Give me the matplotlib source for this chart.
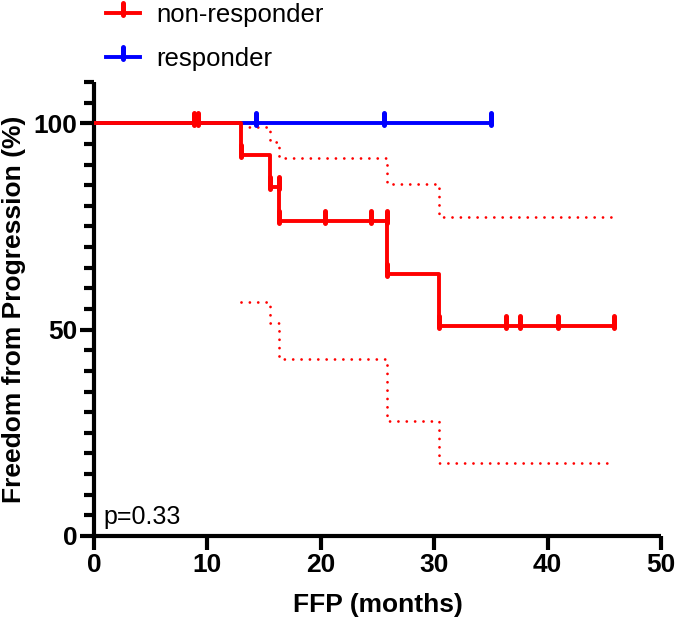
import matplotlib
matplotlib.use("Agg")
import matplotlib.pyplot as plt
from matplotlib.lines import Line2D
from matplotlib.markers import MarkerStyle
from matplotlib.path import Path
from matplotlib.ticker import MultipleLocator

plt.rcParams["font.family"] = ["Liberation Sans", "DejaVu Sans"]

# non-responder Kaplan-Meier curve (step times, survival %)
nr_times = [0, 13.0, 15.5, 16.3, 25.8, 30.4]
nr_surv = [100, 92.3, 84.6, 76.2, 63.5, 50.8]
nr_end = 45.9
nr_cens_t = [8.8, 9.2, 13.0, 15.5, 16.3, 16.3, 20.4, 24.4, 25.8, 25.8, 30.4, 36.3, 37.6, 40.9, 45.9]
nr_cens_s = [100, 100, 92.3, 84.6, 84.6, 76.2, 76.2, 76.2, 76.2, 63.5, 50.8, 50.8, 50.8, 50.8, 50.8]

# 95% confidence band for non-responders
ci_times = [13.0, 15.5, 16.3, 25.8, 30.4]
ci_upper = [99.0, 95.5, 91.7, 85.2, 77.2]
ci_lower = [56.8, 51.5, 42.9, 27.9, 17.7]

# responder curve
r_times = [0]
r_surv = [100]
r_end = 35.0
r_cens_t = [14.3, 25.6, 35.0]
r_cens_s = [100, 100, 100]

RED, BLUE = "#ff0000", "#0000ff"
tick_mark = MarkerStyle(Path([(0, -0.2), (0, 1)]), capstyle="round")
mk = dict(marker=tick_mark, markersize=14.4, markeredgewidth=3.6)


def steps(t, s, end):
    return list(t) + [end], list(s) + [s[-1]]


fig = plt.figure(figsize=(6.82, 6.21), dpi=100)
ax = fig.add_axes([0.1378, 0.1369, 0.8314, 0.7311])

x, y = steps(r_times, r_surv, r_end)
ax.step(x, y, where="post", color=BLUE, lw=2.8, solid_capstyle="butt", zorder=3)
ax.plot(r_cens_t, r_cens_s, color=BLUE, linestyle="none", zorder=3, **mk)

for band in (ci_upper, ci_lower):
    x, y = steps(ci_times, band, nr_end)
    ax.step(x, y, where="post", color=RED, lw=2.0, linestyle=(0, (0.01, 3)),
            dash_capstyle="round", zorder=2)

x, y = steps(nr_times, nr_surv, nr_end)
ax.step(x, y, where="post", color=RED, lw=2.8, solid_capstyle="butt", zorder=4)
ax.plot(nr_cens_t, nr_cens_s, color=RED, linestyle="none", zorder=4, **mk)

ax.set_xlim(0, 50)
ax.set_ylim(0, 110)
ax.spines["top"].set_visible(False)
ax.spines["right"].set_visible(False)
for sp in ("left", "bottom"):
    ax.spines[sp].set_linewidth(3)
    ax.spines[sp].set_capstyle("butt")
ax.xaxis.set_major_locator(MultipleLocator(10))
ax.yaxis.set_major_locator(MultipleLocator(50))
ax.yaxis.set_minor_locator(MultipleLocator(5))
ax.tick_params(axis="both", which="major", length=10, width=3, labelsize=19, pad=2)
ax.tick_params(axis="y", which="minor", length=7, width=3)
for lab in ax.get_xticklabels() + ax.get_yticklabels():
    lab.set_fontweight("bold")

ax.set_xlabel("FFP (months)", fontsize=19, fontweight="bold", labelpad=12)
ax.set_ylabel("Freedom from Progression (%)", fontsize=19, fontweight="bold", labelpad=5)
ax.text(0.8, 4.5, "p=0.33", fontsize=18, va="center", ha="left")

handles = [Line2D([], [], color=RED, lw=2.8, **mk),
           Line2D([], [], color=BLUE, lw=2.8, **mk)]
fig.legend(handles, ["non-responder", "responder"], loc="upper left",
           bbox_to_anchor=(0.156, 0.995), frameon=False, fontsize=18.5, numpoints=1,
           borderpad=0, borderaxespad=0, handlelength=1.32, handletextpad=0.62,
           labelspacing=0.78)

fig.savefig("out.png", dpi=100)
